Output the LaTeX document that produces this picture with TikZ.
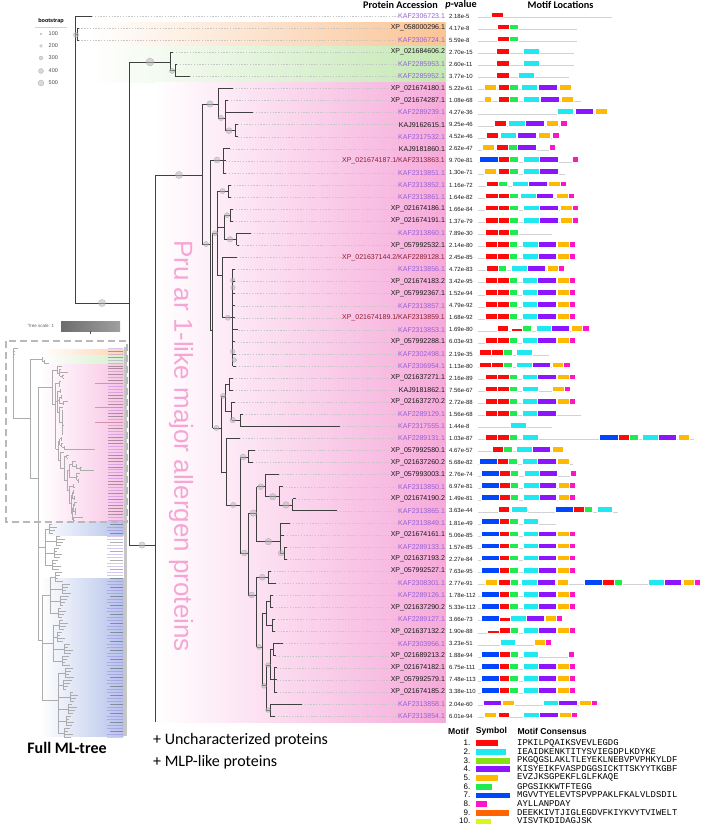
\documentclass[tikz,border=0pt]{standalone}
\usepackage{fontspec}
\setmainfont{Liberation Sans}
\newfontfamily\calfont{Carlito}
\newfontfamily\monofont{Liberation Mono}
\usetikzlibrary{positioning}

% label classes (also used as colours)
\definecolor{kaf}{RGB}{150,95,215}
\definecolor{xp}{RGB}{25,25,25}
\definecolor{combo}{RGB}{140,30,50}
% clade bands
\definecolor{bandor}{RGB}{250,196,150}
\definecolor{bandgr}{RGB}{196,232,180}
\definecolor{bandpk}{RGB}{246,170,218}
\definecolor{bandbl}{RGB}{150,170,225}
\definecolor{titlepink}{RGB}{246,165,212}
% motif colours
\definecolor{mred}{RGB}{255,10,10}
\definecolor{mcyan}{RGB}{32,232,240}
\definecolor{mlime}{RGB}{136,224,20}
\definecolor{mpurple}{RGB}{140,20,255}
\definecolor{morange}{RGB}{255,185,0}
\definecolor{mgreen}{RGB}{30,235,80}
\definecolor{mblue}{RGB}{0,70,255}
\definecolor{mmagenta}{RGB}{255,20,200}
\definecolor{morred}{RGB}{255,100,0}
\definecolor{mylime}{RGB}{220,245,30}

\def\btop{0.36}
\def\combokey{combo}

\tikzset{
  branch/.style={draw=black!75, line width=0.8pt},
  boot/.style={fill=gray!55, fill opacity=0.55, draw=gray!80, draw opacity=0.7, line width=0.3pt},
  leader/.style={draw=gray!45, line width=0.35pt, dash pattern=on 1.4pt off 1.4pt},
  acclab/.style={font=\fontsize{7}{8}\selectfont, inner sep=0.4pt},
  pvlab/.style={font=\fontsize{6}{7}\selectfont, inner sep=0.4pt, text=xp},
  motifline/.style={draw=gray!35, line width=0.5pt},
  motifbox/.style={draw=white, line width=0.25pt},
  m1/.style={fill=mred}, m2/.style={fill=mcyan}, m3/.style={fill=mlime},
  m4/.style={fill=mpurple}, m5/.style={fill=morange}, m6/.style={fill=mgreen},
  m7/.style={fill=mblue}, m8/.style={fill=mmagenta}, m9/.style={fill=morred},
  m10/.style={fill=mylime},
  m1t/.code={\def\btop{0.16}\pgfkeysalso{fill=mred}},
  header/.style={font=\calfont\bfseries\fontsize{10.2}{12}\selectfont, inner sep=0pt},
  leghead/.style={font=\bfseries\fontsize{8.6}{10}\selectfont, inner sep=0pt},
  numlab/.style={font=\fontsize{8}{9}\selectfont, inner sep=0pt},
  conslab/.style={font=\monofont\fontsize{8.9}{9}\selectfont, inner sep=0pt},
  bslab/.style={font=\fontsize{5.5}{6}\selectfont, text=black!70, inner sep=0pt},
  inbranch/.style={draw=gray!65, line width=0.3pt},
  inlab/.style={line width=0.6pt, draw opacity=0.35},
  insetframe/.style={draw=gray!55, line width=2.6pt, dash pattern=on 7pt off 4pt},
}

\newcommand\branchnode[5]{\draw[branch] (#1,#3) -- (#2,#3) (#2,#4) -- (#2,#5);}
\newcommand\bootcirc[3]{\path[boot] (#1,#2) circle[radius=#3pt];}

% row / accession / class / p-value / parent x / tip x
\def\rowdata{%
1/KAF2306723.1/kaf/2.18e-5/75/92,
2/XP\_058000296.1/xp/4.17e-8/77/78.5,
3/KAF2306724.1/kaf/5.59e-8/77/78.5,
4/XP\_021684606.2/xp/2.70e-15/170/173,
5/KAF2285953.1/kaf/2.60e-11/175/177,
6/KAF2285952.1/kaf/3.77e-10/175/190,
7/XP\_021674180.1/xp/5.22e-61/218/233,
8/XP\_021674287.1/xp/1.08e-68/225/228,
9/KAF2289239.1/kaf/4.27e-36/225/253,
10/KAJ9162615.1/xp/9.25e-46/235/238,
11/KAF2317532.1/kaf/4.52e-46/235/238,
12/KAJ9181860.1/xp/2.62e-47/223.3/230,
13/{XP\_021674187.1/KAF2313863.1}/combo/9.70e-81/223.3/226,
14/KAF2313851.1/kaf/1.30e-71/223.3/226,
15/KAF2313852.1/kaf/1.16e-72/228/231,
16/KAF2313861.1/kaf/1.64e-82/228/231,
17/XP\_021674186.1/xp/1.66e-84/230/233,
18/XP\_021674191.1/xp/1.37e-79/230/233,
19/KAF2313860.1/kaf/7.89e-30/236.7/251,
20/XP\_057992532.1/xp/2.14e-80/236.7/239,
21/{XP\_021637144.2/KAF2289128.1}/combo/2.45e-85/222.7/236.7,
22/KAF2313856.1/kaf/4.72e-83/232.7/235,
23/XP\_021674183.2/xp/3.42e-95/232.7/235,
24/XP\_057992367.1/xp/1.52e-94/232.7/235,
25/KAF2313857.1/kaf/4.79e-92/232.7/235,
26/{XP\_021674189.1/KAF2313859.1}/combo/1.68e-92/232.7/235,
27/KAF2313853.1/kaf/1.69e-80/232.7/238.3,
28/XP\_057992288.1/xp/6.03e-93/232.7/235,
29/KAF2302498.1/kaf/2.19e-35/232.7/236,
30/KAF2306954.1/kaf/1.13e-80/232.7/236,
31/XP\_021637271.1/xp/2.16e-89/229/233,
32/KAJ9181862.1/xp/7.56e-67/229/233,
33/XP\_021637270.2/xp/2.72e-88/231.7/235,
34/KAF2289129.1/kaf/1.56e-68/240/243,
35/KAF2317555.1/kaf/1.44e-8/240/340,
36/KAF2289131.1/kaf/1.03e-87/226/240,
37/XP\_057992580.1/xp/4.67e-57/248/255,
38/XP\_021637260.2/xp/5.68e-82/248/253,
39/XP\_057993003.1/xp/2.76e-74/265/279,
40/KAF2313850.1/kaf/6.97e-81/279/283,
41/XP\_021674190.2/xp/1.49e-81/292.7/296,
42/KAF2313865.1/kaf/3.63e-44/292.7/337,
43/KAF2313849.1/kaf/1.81e-49/280/290,
44/XP\_021674161.1/xp/5.06e-85/280/284,
45/KAF2289133.1/kaf/1.57e-85/284/287,
46/XP\_021637193.2/xp/2.27e-84/284/287,
47/XP\_057992527.1/xp/7.63e-95/268/271,
48/KAF2308301.1/kaf/2.77e-91/268/276,
49/KAF2289126.1/kaf/1.78e-112/270/273,
50/XP\_021637290.2/xp/5.33e-112/270/273,
51/KAF2289127.1/kaf/3.66e-73/272/275,
52/XP\_021637132.2/xp/1.90e-88/272/275,
53/KAF2303956.1/kaf/3.23e-51/273/283,
54/XP\_021689213.2/xp/1.88e-94/273/276,
55/XP\_021674182.1/xp/6.75e-111/274/277,
56/XP\_057992579.1/xp/7.48e-113/274/277,
57/XP\_021674185.2/xp/3.38e-110/274/277,
58/KAF2313858.1/kaf/2.04e-60/270/302,
59/KAF2313854.1/kaf/6.01e-94/270/275}

% row / end of grey line / motif boxes (start/end/motif)
\def\motifdata{%
1/612/{491/503/m1},
2/577/{497/509/m1,509/518/m6},
3/577/{497/509/m1,509/518/m6},
4/574/{496/509/m1,523/539/m2},
5/574/{496/509/m1,523/539/m2},
6/569/{496/509/m1,518/534/m2},
7/571/{484/496/m5,498/509/m1,509/518/m6,521/537/m2,538/557/m4,559/571/m5},
8/581/{484/491/m5,498/509/m1,509/518/m6,523/539/m2,540/559/m4,561/573/m5},
9/607/{557/573/m2,575/593/m4,595/607/m5},
10/567/{494/506/m1,508/525/m2,525/544/m4,546/558/m5,560/567/m8},
11/559/{486/498/m1,500/516/m2,517/536/m4,538/550/m5,552/559/m8},
12/556/{482/494/m5,496/508/m1,508/517/m6,517/536/m4,549/555/m8},
13/578/{479/498/m7,498/509/m1,509/518/m6,523/539/m2,539/558/m4,572/578/m8},
14/565/{484/496/m5,498/509/m1,509/518/m6,523/539/m2,539/558/m4},
15/566/{486/498/m1,498/507/m6,512/528/m2,528/547/m4,548/560/m5,560/566/m8},
16/574/{485/498/m1,498/509/m1,509/518/m6,520/536/m2,536/553/m4,556/568/m5,568/574/m8},
17/578/{485/498/m1,498/509/m1,509/518/m6,523/539/m2,539/558/m4,560/572/m5,572/578/m8},
18/578/{485/498/m1,498/509/m1,509/518/m6,523/539/m2,539/558/m4,560/572/m5,572/578/m8},
19/552/{485/498/m1,498/509/m1,509/518/m6},
20/575/{485/497/m1,497/509/m1,509/517/m6,522/538/m2,538/556/m4,557/569/m5,569/575/m8},
21/575/{485/497/m1,497/509/m1,509/517/m6,522/538/m2,538/556/m4,557/569/m5,569/575/m8},
22/564/{486/498/m1,498/506/m6,511/527/m2,527/545/m4,547/558/m5,558/564/m8},
23/575/{485/497/m1,497/509/m1,509/517/m6,522/537/m2,537/556/m4,557/569/m5,569/575/m8},
24/575/{485/497/m1,497/509/m1,509/517/m6,522/537/m2,537/556/m4,557/569/m5,569/575/m8},
25/575/{485/497/m1,497/509/m1,509/517/m6,522/537/m2,537/556/m4,557/569/m5,569/575/m8},
26/575/{485/497/m1,497/509/m1,509/517/m6,522/537/m2,537/556/m4,557/569/m5,569/575/m8},
27/589/{497/508/m1,511/522/m1t,522/531/m6,536/551/m2,551/569/m4,571/582/m5,582/589/m8},
28/575/{485/497/m1,497/509/m1,509/517/m6,522/537/m2,537/556/m4,557/569/m5,569/575/m8},
29/549/{479/491/m1,491/503/m1,503/512/m6,516/532/m2},
30/570/{479/491/m1,491/503/m1,503/512/m6,516/532/m2,532/550/m4,552/563/m5,563/570/m8},
31/575/{485/497/m1,497/509/m1,509/517/m6,522/537/m2,537/556/m4,557/569/m5,569/575/m8},
32/570/{485/497/m1,497/509/m1,509/517/m6,522/538/m2,552/564/m5,564/570/m8},
33/575/{485/497/m1,497/509/m1,509/517/m6,522/537/m2,537/556/m4,557/569/m5,569/575/m8},
34/581/{485/497/m1,497/509/m1,509/517/m6,522/537/m2,537/556/m4},
35/552/{510/526/m2},
36/694/{485/497/m1,497/509/m1,509/517/m6,522/538/m2,599/618/m7,618/629/m1,629/638/m6,642/658/m2,658/676/m4,678/689/m5},
37/564/{492/503/m1,503/512/m6,516/532/m2,532/550/m4,552/563/m5},
38/573/{479/497/m7,497/508/m1,508/517/m6,522/537/m2,537/556/m4,557/569/m5},
39/576/{481/499/m7,499/510/m1,510/518/m6,524/539/m2,539/557/m4,570/576/m8},
40/575/{481/499/m7,499/510/m1,510/518/m6,523/539/m2,539/556/m4,558/569/m5,569/575/m8},
41/575/{481/499/m7,499/510/m1,510/518/m6,523/539/m2,539/556/m4,558/569/m5,569/575/m8},
42/618/{498/509/m1,511/527/m2,555/573/m7,573/584/m1,584/592/m6,597/612/m2},
43/556/{481/499/m7,499/509/m1,509/518/m6,523/538/m2},
44/575/{481/499/m7,499/509/m1,509/518/m6,523/538/m2,538/556/m4,557/569/m5,569/575/m8},
45/575/{481/499/m7,499/509/m1,509/518/m6,523/538/m2,538/556/m4,557/569/m5,569/575/m8},
46/575/{481/499/m7,499/509/m1,509/518/m6,523/538/m2,538/556/m4,557/569/m5,569/575/m8},
47/575/{481/499/m7,499/509/m1,509/518/m6,523/538/m2,538/556/m4,557/569/m5,569/575/m8},
48/700/{485/497/m5,498/510/m1,510/518/m6,521/537/m2,537/555/m4,557/568/m5,584/602/m7,602/614/m1,614/622/m6,648/664/m2,664/681/m4,683/694/m5,694/700/m8},
49/575/{481/499/m7,499/509/m1,509/518/m6,523/538/m2,538/556/m4,557/569/m5,569/575/m8},
50/575/{481/499/m7,499/509/m1,509/518/m6,523/538/m2,538/556/m4,557/569/m5,569/575/m8},
51/562/{481/499/m7,499/510/m1t,510/526/m2,526/544/m4,545/556/m5,556/562/m8},
52/575/{487/499/m1t,499/510/m1,510/518/m6,523/538/m2,538/556/m4,557/569/m5,569/575/m8},
53/551/{500/515/m2,534/545/m5,545/551/m8},
54/574/{481/499/m7,499/510/m1,510/518/m6,523/538/m2,568/574/m8},
55/575/{481/499/m7,499/509/m1,509/518/m6,523/538/m2,538/556/m4,557/569/m5,569/575/m8},
56/575/{481/499/m7,499/509/m1,509/518/m6,523/538/m2,538/556/m4,557/569/m5,569/575/m8},
57/575/{481/499/m7,499/509/m1,509/518/m6,523/538/m2,538/556/m4,557/569/m5,569/575/m8},
58/597/{483/501/m4,502/514/m5,543/558/m2,558/577/m4,579/591/m5,591/597/m8},
59/577/{484/496/m5,498/509/m1,523/539/m2,539/558/m4,559/571/m5,571/577/m8}}

% internal branches of the tree (x in px, y in rows)
\newcommand\treebody{%
  \branchnode{75}{75}{1}{1}{24.78}
  \branchnode{75}{77}{2.5}{2}{3}
  \branchnode{75}{129}{24.78}{4.81}{44.83}
  \branchnode{129}{170}{4.81}{4}{5.5}
  \branchnode{170}{175}{5.5}{5}{6}
  \branchnode{129}{155}{44.83}{14.17}{59.5}
  \branchnode{155}{202}{14.17}{8.29}{19.89}
  \branchnode{202}{218}{8.29}{7}{9.45}
  \branchnode{218}{225}{9.45}{8}{10.5}
  \branchnode{225}{235}{10.5}{10}{11}
  \branchnode{202}{210}{19.89}{12.93}{27.07}
  \branchnode{210}{223.3}{12.93}{12}{14}
  \branchnode{210}{212.5}{27.07}{19}{35.13}
  \branchnode{212.5}{217}{19}{15.5}{22.5}
  \branchnode{217}{228}{15.5}{15}{16}
  \branchnode{217}{224}{18.5}{17.5}{19.5}
  \branchnode{224}{230}{17.5}{17}{18}
  \branchnode{224}{236.7}{19.5}{19}{20}
  \branchnode{217}{222.7}{22.5}{21}{26}
  \branchnode{222.7}{232.7}{26}{22}{30}
  \branchnode{212.5}{221}{35.13}{32.48}{38.78}
  \branchnode{221}{225}{32.48}{31.5}{33.73}
  \branchnode{225}{229}{31.5}{31}{32}
  \branchnode{225}{231.7}{33.73}{33}{34.47}
  \branchnode{231.7}{240}{34.47}{34}{35}
  \branchnode{221}{226}{38.78}{36}{41.51}
  \branchnode{226}{240}{41.51}{37.54}{45.49}
  \branchnode{240}{248}{37.54}{37}{38}
  \branchnode{240}{248.3}{45.49}{42.18}{48.97}
  \branchnode{248.3}{256.7}{42.18}{40}{44.55}
  \branchnode{256.7}{265}{40}{39}{40.83}
  \branchnode{265}{279}{40.83}{40}{41.51}
  \branchnode{279}{292.7}{41.51}{41}{42}
  \branchnode{256.7}{280}{44.55}{43}{45.5}
  \branchnode{280}{284}{45.5}{45}{46}
  \branchnode{248.3}{256.7}{48.97}{47.5}{53.28}
  \branchnode{256.7}{268}{47.5}{47}{48}
  \branchnode{256.7}{262}{53.28}{50.5}{56.5}
  \branchnode{262}{266}{50.5}{49.5}{51.5}
  \branchnode{266}{270}{49.5}{49}{50}
  \branchnode{266}{272}{51.5}{51}{52}
  \branchnode{262}{266}{56.5}{54.77}{58.5}
  \branchnode{266}{270}{54.77}{53.5}{56}
  \branchnode{270}{273}{53.5}{53}{54}
  \branchnode{270}{274}{56}{55}{57}
  \branchnode{266}{270}{58.5}{58}{59}
  % bootstrap
  \bootcirc{76}{2.57}{2.6}\bootcirc{102}{24.78}{3.6}\bootcirc{150}{4.81}{3.9}
  \bootcirc{172}{5.55}{2.6}\bootcirc{142}{44.83}{3.2}\bootcirc{179}{14.17}{3.6}
  \bootcirc{210}{8.29}{3.2}\bootcirc{221}{9.45}{2.6}\bootcirc{229}{10.5}{3}
  \bootcirc{206}{19.89}{2.6}\bootcirc{217}{12.93}{3}\bootcirc{215}{19}{2.6}
  \bootcirc{222.5}{15.5}{2.6}\bootcirc{227}{17.5}{2.5}\bootcirc{230}{19.5}{2.8}
  \bootcirc{227.7}{26}{2.6}\bootcirc{232.7}{22.9}{2.3}\bootcirc{233}{23.5}{2.3}
  \bootcirc{232.7}{28.8}{2.3}\bootcirc{234.3}{29.5}{2.3}\bootcirc{216.5}{35.13}{2.6}
  \bootcirc{223}{32.48}{2.6}\bootcirc{232.7}{34.47}{2.8}\bootcirc{243}{37.54}{3}
  \bootcirc{233.3}{41.51}{2.6}\bootcirc{244.3}{45.49}{3}\bootcirc{253.3}{42.18}{3.3}
  \bootcirc{260.7}{40}{3}\bootcirc{272.7}{40.83}{3.3}\bootcirc{286}{41.51}{3.3}
  \bootcirc{268.3}{44.55}{3.3}\bootcirc{281}{45.5}{2.8}\bootcirc{251.7}{48.97}{3}
  \bootcirc{262.3}{47.5}{3}\bootcirc{259}{53.28}{2.5}\bootcirc{264}{56.5}{2.5}
  \bootcirc{268}{54.77}{2.4}\bootcirc{268}{58.5}{2.4}
}

\begin{document}
\begin{tikzpicture}[x=1pt,y=-1pt]
\useasboundingbox (0,0) rectangle (708,832);

% clade bands
\begin{scope}[y=-12.07pt, yshift=-3.93pt]
  \shade[left color=white, right color=bandor] (90,1.5) rectangle (445.5,3.5);
  \shade[left color=white, right color=bandgr] (90,3.5) rectangle (445.5,6.5);
  \shade[left color=white, right color=bandpk] (155,6.5) rectangle (445.5,59.5);
\end{scope}

\node[font=\fontsize{26}{28}\selectfont, text=titlepink, rotate=-90, inner sep=0pt] (cladename) at (181,446) {Pru ar 1-like major allergen proteins};

% headers
\node[header, anchor=east] (hdracc) at (438,5) {Protein Accession};
\node[header] (hdrpv) at (461,5) {{\itshape p}-value};
\node[header] (hdrmotif) at (560.5,5) {Motif Locations};

% tree, labels and motifs
\begin{scope}[y=-12.07pt, yshift=-3.93pt]
  \treebody
  \foreach \i/\acc/\cls/\pv/\px/\tip in \rowdata {
    \draw[branch] (\px,\i) -- (\tip,\i);
    \node[acclab, text=\cls, anchor=east] (acc\i) at (445.5,\i) {\acc};
    \node[pvlab, anchor=west] (pv\i) at (448.5,\i) {\pv};
    \draw[leader] (\tip,\i) -- (acc\i.west);
  }
  \foreach \i/\e/\m in \motifdata {
    \draw[motifline] (478,{\i+0.1}) -- (\e,{\i+0.1});
    \edef\mlist{\m}
    \foreach \a/\b/\c in \mlist {
      \path[motifbox,\c] (\a,{\i-\btop}) rectangle (\b,{\i+0.12});
    }
  }
\end{scope}

% bootstrap legend
\node[font=\bfseries\fontsize{5.5}{6}\selectfont, inner sep=0pt] (bstitle) at (51,21) {bootstrap};
\draw[gray!35, line width=0.3pt] (35,27) -- (67,27);
\foreach \v/\yy/\rr in {100/34/1, 200/46/1.5, 300/58/2, 400/71/2.5, 500/83/3} {
  \path[boot] (41,\yy) circle[radius=\rr pt];
  \node[bslab, anchor=west] (bs\v) at (48.5,\yy) {\v};
}

% inset: full ML-tree
\node[font=\fontsize{4.5}{5}\selectfont, text=gray!75!black, inner sep=0pt] (scalelab) at (41,326) {Tree scale: 1};
\shade[left color=gray!85!black, right color=gray!75] (61,321) rectangle (120,331);
\draw[gray!60!black, line width=0.4pt] (90,331) -- (90,333.5);
\shade[left color=white, right color=bandor!70] (40,349.5) rectangle (123.5,355.4);
\shade[left color=white, right color=bandgr!70] (40,355.4) rectangle (123.5,364.3);
\shade[left color=white, right color=bandpk!70] (40,364.3) rectangle (123.5,521.7);
\shade[left color=white, right color=bandbl!70] (40,521.7) rectangle (123.5,535);
\shade[left color=white, right color=bandbl!70] (40,578) rectangle (123.5,736);
\fill[gray!45] (123.5,347) rectangle (127,736);
\begin{scope}[x=0.31pt, y=-2.97pt, xshift=-10.25pt, yshift=-345.03pt,
  branch/.style={draw=gray!65, line width=0.3pt}]
  \renewcommand\bootcirc[3]{}
  \treebody
  \foreach \i/\acc/\cls/\pv/\px/\tip in \rowdata {
    \draw[branch] (\px,\i) -- (\tip,\i);
  }
\end{scope}
\foreach \i/\acc/\cls/\pv/\px/\tip in \rowdata {
  \pgfmathsetmacro\yy{345.03+2.97*\i}
  \edef\tmpx{\cls}
  \ifx\tmpx\combokey\def\slen{28}\else\def\slen{15}\fi
  \draw[inlab, draw=\cls] ({123-\slen},\yy) -- (123,\yy);
}
% other clades of the full tree
\draw[inbranch] (37.8,521.7) -- (37.8,640) (37.8,547) -- (45,547) (37.8,640) -- (42,640)
  (42,595) -- (42,700) (42,595) -- (50,595) (42,643) -- (53,643) (42,700) -- (58,700)
  (45,529) -- (45,565) (50,577) -- (50,613) (53,625) -- (53,661) (58,673) -- (58,733);
\foreach \g/\sp in {0/45,1/45,2/45,3/45,4/50,5/50,6/50,7/50,8/53,9/53,10/53,11/53,
                    12/58,13/58,14/58,15/58,16/58,17/58} {
  \pgfmathsetmacro\gx{\sp+4+mod(\g*7,9)}
  \pgfmathsetmacro\ya{524.5+12*\g}
  \draw[inbranch] (\sp,{\ya+4.5}) -- (\gx,{\ya+4.5}) (\gx,\ya) -- (\gx,{\ya+9});
  \foreach \j in {0,...,3} {
    \pgfmathsetmacro\yl{\ya+3*\j}
    \pgfmathsetmacro\tl{\gx+3+mod(\j*5+\g,7)}
    \pgfmathtruncatemacro\kk{mod(4*\g+\j,3)}
    \draw[inbranch] (\gx,\yl) -- (\tl,\yl);
    \ifnum\kk=0 \draw[inlab, draw=xp] (110,\yl) -- (123,\yl);
    \else \draw[inlab, draw=kaf] (107,\yl) -- (123,\yl); \fi
  }
}
\draw[insetframe] (6,341) rectangle (127,522);
\node[font=\calfont\bfseries\fontsize{16}{18}\selectfont, inner sep=0pt] (fulltree) at (67,748) {Full ML-tree};

% collapsed clades
\node[font=\calfont\fontsize{16}{18}\selectfont, inner sep=0pt, anchor=west] (uncharac) at (153,740) {+ Uncharacterized proteins};
\node[font=\calfont\fontsize{16}{18}\selectfont, inner sep=0pt, anchor=west] (mlplike) at (153,762) {+ MLP-like proteins};

% motif legend
\node[leghead, anchor=west] (lgmotif) at (448,731.7) {Motif};
\node[leghead, anchor=west] (lgsymbol) at (475.7,731.7) {Symbol};
\node[leghead, anchor=west] (lgcons) at (517.3,731.7) {Motif Consensus};
\foreach \k/\w/\c/\s in {1/497.7/m1/IPKILPQAIKSVEVLEGDG,
    2/505.7/m2/IEAIDKENKTITYSVIEGDPLKDYKE,
    3/510/m3/PKGQGSLAKLTLEYEKLNEBVPVPHKYLDF,
    4/510/m4/KISYEIKFVASPDGGSICKTTSKYYTKGBF,
    5/497.7/m5/EVZJKSGPEKFLGLFKAQE,
    6/491.7/m6/GPGSIKKWTFTEGG,
    7/510/m7/MGVVTYELEVTSPVPPAKLFKALVLDSDIL,
    8/487/m8/AYLLANPDAY,
    9/509/m9/DEEKKIVTJIGLEGDVFKIYKVYTVIWELT,
    10/491/m10/VISVTKDIDAGJSK} {
  \pgfmathsetmacro\yy{743+(\k-1)*8.67}
  \node[numlab, anchor=east] (mnum\k) at (470.5,\yy) {\k.};
  \path[motifbox,\c] (475.5,{\yy-3.4}) rectangle (\w,{\yy+3.4});
  \node[conslab, anchor=west] (mcons\k) at (517,\yy) {\s};
}
\end{tikzpicture}
\end{document}
